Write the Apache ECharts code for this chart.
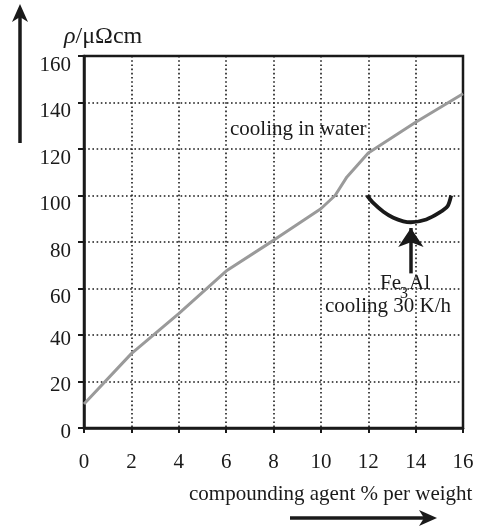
<!DOCTYPE html>
<html>
<head>
<meta charset="utf-8">
<script src="https://cdn.jsdelivr.net/npm/echarts@6/dist/echarts.min.js"></script>
<style>
  html, body { margin: 0; padding: 0; background: #fff; }
  #chart { width: 477px; height: 531px; }
</style>
</head>
<body>
<div id="chart"></div>
<script>
// Resistivity of Fe-Al alloys against aluminium content
const xTicks = [0, 2, 4, 6, 8, 10, 12, 14, 16];
const yTicks = [0, 20, 40, 60, 80, 100, 120, 140, 160];

// quenched in water
const waterX = [0, 2, 4, 6, 8, 10, 10.6, 11.1, 12, 14, 16];
const waterY = [10.3, 32, 49.2, 67.5, 80.7, 94.3, 100, 108, 118.3, 131.5, 143.8];

// slow cooling 30 K/h, Fe3Al ordering dip
const slowX = [11.95, 12.2, 12.64, 13.06, 13.48, 13.8, 14.45, 15.0, 15.35, 15.5];
const slowY = [100, 96.9, 93, 90.4, 88.9, 88.5, 89.7, 92.6, 95.4, 100];

// arrow pointing at the Fe3Al minimum
const arrowX = 13.8;
const arrowFrom = 66.5;
const arrowTo = 86;

const FONT = 'Liberation Serif, Times New Roman, serif';
const INK = '#1a1a1a';

const chart = echarts.init(document.getElementById('chart'), null, { renderer: 'canvas' });

const zip = (xs, ys) => xs.map((x, i) => [x, ys[i]]);

chart.setOption({
  animation: false,
  backgroundColor: '#fff',
  grid: {
    left: 84, right: 14, top: 56, bottom: 103,
    show: true, borderColor: INK, borderWidth: 2.5, backgroundColor: 'transparent'
  },
  xAxis: {
    type: 'value',
    min: xTicks[0], max: xTicks[xTicks.length - 1], interval: 2,
    axisLine: { show: true, lineStyle: { color: INK, width: 2.5 } },
    axisTick: { show: true, length: 5, lineStyle: { color: INK, width: 2 } },
    axisLabel: { color: INK, fontFamily: FONT, fontSize: 21, margin: 24 },
    splitLine: { show: true, lineStyle: { color: INK, width: 1.6, type: [1.6, 2.6] } }
  },
  yAxis: {
    type: 'value',
    min: yTicks[0], max: yTicks[yTicks.length - 1], interval: 20,
    axisLine: { show: true, lineStyle: { color: INK, width: 2.5 } },
    axisTick: { show: true, length: 6, lineStyle: { color: INK, width: 2 } },
    axisLabel: {
      color: INK, fontFamily: FONT, fontSize: 21, margin: 13,
      // tick numbers sit just under their tick marks
      formatter: v => (v >= 60 ? '{hi|' + v + '}' : '{lo|' + v + '}'),
      rich: {
        hi: { fontFamily: FONT, fontSize: 21, color: INK, padding: [18, 0, 0, 0] },
        lo: { fontFamily: FONT, fontSize: 21, color: INK, padding: [8, 0, 0, 0] }
      }
    },
    splitLine: { show: true, lineStyle: { color: INK, width: 1.6, type: [1.6, 2.6] } }
  },
  series: [
    {
      name: 'cooling in water',
      type: 'line',
      data: zip(waterX, waterY),
      showSymbol: false,
      lineStyle: { color: '#9a9a9a', width: 3 },
      z: 3
    },
    {
      name: 'cooling 30 K/h',
      type: 'line',
      data: zip(slowX, slowY),
      showSymbol: false,
      smooth: 0.25,
      lineStyle: { color: INK, width: 3.8 },
      z: 4,
      markLine: {
        silent: true,
        symbol: ['none', 'arrow'],
        symbolSize: [19, 19],
        label: { show: false },
        lineStyle: { color: INK, width: 3.5, type: 'solid' },
        data: [[{ coord: [arrowX, arrowFrom] }, { coord: [arrowX, arrowTo] }]]
      }
    }
  ],
  graphic: [
    // vertical axis arrow
    { type: 'line', shape: { x1: 20, y1: 143, x2: 20, y2: 16 }, style: { stroke: INK, lineWidth: 3.5 } },
    { type: 'polygon', shape: { points: [[20, 4], [28, 22], [20, 17], [12, 22]] }, style: { fill: INK } },
    // horizontal axis arrow
    { type: 'line', shape: { x1: 290, y1: 518, x2: 425, y2: 518 }, style: { stroke: INK, lineWidth: 3.5 } },
    { type: 'polygon', shape: { points: [[437, 518], [419, 510], [424, 518], [419, 526]] }, style: { fill: INK } },
    // axis titles
    {
      type: 'text', left: 64, top: 25,
      style: {
        text: '{i|ρ}/μΩcm', fill: INK, font: '24px ' + FONT,
        rich: { i: { fontStyle: 'italic', fontSize: 24, fontFamily: FONT, fill: INK } }
      }
    },
    {
      type: 'text', left: 189, top: 484,
      style: { text: 'compounding agent % per weight', fill: INK, font: '21px ' + FONT }
    },
    // curve labels
    {
      type: 'text', left: 230, top: 119,
      style: { text: 'cooling in water', fill: INK, font: '21px ' + FONT }
    },
    {
      type: 'text', left: 325, top: 296,
      style: { text: 'cooling 30 K/h', fill: INK, font: '21px ' + FONT }
    },
    {
      type: 'text', left: 380, top: 273,
      style: { text: 'Fe', fill: INK, font: '21px ' + FONT }
    },
    {
      type: 'text', left: 400, top: 286,
      style: { text: '3', fill: INK, font: '16px ' + FONT }
    },
    {
      type: 'text', left: 409, top: 273,
      style: { text: 'Al', fill: INK, font: '21px ' + FONT }
    }
  ]
});
</script>
</body>
</html>
